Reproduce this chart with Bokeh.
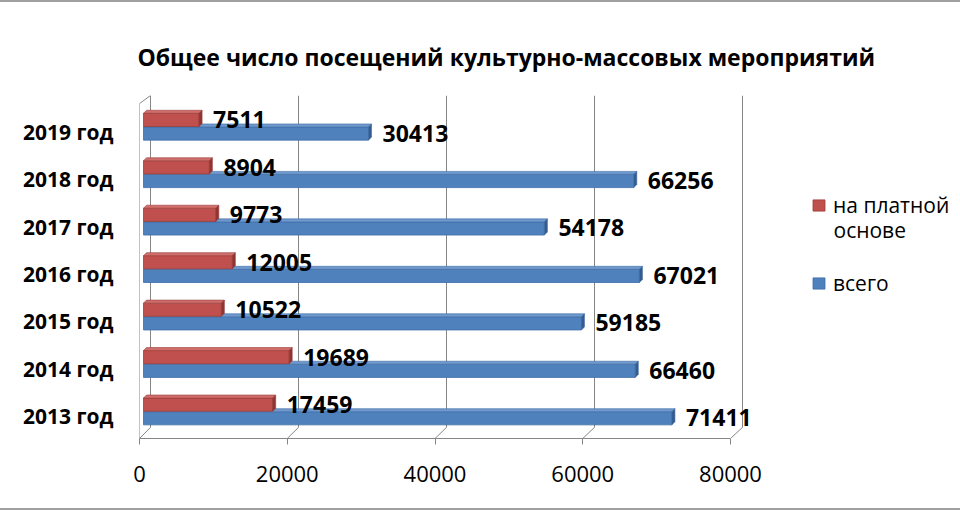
from bokeh.plotting import figure
from bokeh.models import (Range1d, LinearAxis, FixedTicker, Legend, LegendItem,
                          Label, ColumnDataSource, Title)
from bokeh.core.properties import value
from bokeh.embed import file_html
from bokeh.resources import INLINE

# ---- data ----
years = ["2013 год", "2014 год", "2015 год", "2016 год", "2017 год", "2018 год", "2019 год"]
paid = [17459, 19689, 10522, 12005, 9773, 8904, 7511]
total = [71411, 66460, 59185, 67021, 54178, 66256, 30413]
xticks = [0, 20000, 40000, 60000, 80000]
title_text = "Общее число посещений культурно-массовых мероприятий"
paid_name = "на платной основе"
total_name = "всего"

RED, RED_TOP, RED_CAP, RED_LINE = "#C0504D", "#CF6E6B", "#8E3532", "#9B3D3A"
BLUE, BLUE_TOP, BLUE_CAP, BLUE_LINE = "#4F81BD", "#6F98CC", "#345C8E", "#3F6DA6"
GRAY = "#868686"
FONT = "Open Sans"

W, HGT = 960, 510
BT = 2  # css border thickness
# ---- layout helpers (reference pixel geometry) ----
S = 592 / 80000              # px per unit for bars
SF = 591 / 80000             # px per unit for front axis
CAT = 46.9                   # px per category
def mx(px):                  # main data x from reference px
    return (px - 143) / S
def my(px):                  # main data y from reference px
    return (406 - px) / CAT
FR_L, FR_R, FR_T, FR_B = 139, 950, 95, 434

xs0, xs1 = mx(FR_L), mx(FR_R)
ys0, ys1 = my(FR_B), my(FR_T)

p = figure(width=W, height=HGT, output_backend="svg", toolbar_location=None,
           x_range=Range1d(xs0, xs1), y_range=Range1d(ys0, ys1),
           x_axis_location=None, y_axis_location=None,
           min_border_left=FR_L, min_border_right=W - FR_R,
           min_border_top=FR_T - BT, min_border_bottom=HGT - BT - FR_B,
           styles={"border-top": "2px solid #A0A0A0", "border-bottom": "2px solid #A0A0A0"})
p.grid.visible = False
p.outline_line_color = None
p.background_fill_color = "white"
p.border_fill_color = "white"

# front axis range & category label range
p.extra_x_ranges = {"front": Range1d(0, (FR_R - FR_L) / SF)}
p.extra_y_ranges = {"lab": Range1d(ys0 + 0.13, ys1 + 0.13)}

xax = LinearAxis(x_range_name="front", ticker=FixedTicker(ticks=xticks), bounds=(0, 80000))
xax.axis_line_color = GRAY
xax.major_tick_line_color = GRAY
xax.major_tick_out = 6
xax.major_tick_in = 0
xax.minor_tick_line_color = None
xax.major_label_standoff = 21
xax.major_label_text_font = FONT
xax.major_label_text_font_size = "22px"
xax.major_label_text_color = "#000000"
p.add_layout(xax, "below")

yax = LinearAxis(y_range_name="lab", ticker=FixedTicker(ticks=list(range(len(years)))))
yax.major_label_overrides = {i: y for i, y in enumerate(years)}
yax.axis_line_color = None
yax.major_tick_line_color = None
yax.major_tick_out = 0
yax.major_tick_in = 0
yax.minor_tick_line_color = None
yax.major_label_standoff = 26
yax.major_label_text_font = FONT
yax.major_label_text_font_size = "21px"
yax.major_label_text_font_style = "bold"
yax.major_label_text_color = "#000000"
p.add_layout(yax, "left")

# ---- 3D walls / grid ----
def back(v):
    return v + 7 / S
def front(v):
    return (v * SF - 4) / S
floor_y = my(423)
gx0, gy0, gx1, gy1 = [], [], [], []
for t in xticks:
    gx0.append(back(t)); gy0.append(floor_y); gx1.append(back(t)); gy1.append(ys1)
    gx0.append(back(t)); gy0.append(floor_y); gx1.append(front(t)); gy1.append(ys0)
# left wall front edge and top
gx0.append(front(0)); gy0.append(my(103)); gx1.append(front(0)); gy1.append(ys0)
gx0.append(front(0)); gy0.append(my(103)); gx1.append(back(0)); gy1.append(ys1)
p.segment(x0=gx0, y0=gy0, x1=gx1, y1=gy1, line_color=GRAY, line_width=1)

# ---- bars ----
H = 13 / CAT
DY = 3 / CAT
DX = 3 / S

def draw_series(vals, off, fill, top, cap, line):
    yc = [i + off for i in range(len(vals))]
    src = ColumnDataSource(dict(y=yc, right=vals))
    r = p.hbar(y="y", left=0, right="right", height=H, source=src,
               fill_color=fill, line_color=line, line_width=0.8)
    txs, tys, cxs, cys = [], [], [], []
    for v, y in zip(vals, yc):
        yt, yb = y + H / 2, y - H / 2
        txs.append([0, v, v + DX, DX]); tys.append([yt, yt, yt + DY, yt + DY])
        cxs.append([v, v, v + DX, v + DX]); cys.append([yb, yt, yt + DY, yb + DY])
    p.patches(xs=txs, ys=tys, fill_color=top, line_color=line, line_width=0.6)
    p.patches(xs=cxs, ys=cys, fill_color=cap, line_color=line, line_width=0.6)
    return r

r_total = draw_series(total, -0.171, BLUE, BLUE_TOP, BLUE_CAP, BLUE_LINE)
r_paid = draw_series(paid, 0.117, RED, RED_TOP, RED_CAP, RED_LINE)

# value labels
p.text(x=total, y=[i - 0.16 for i in range(len(total))], text=[str(v) for v in total],
       x_offset=14, text_baseline="middle", text_align="left",
       text_font=value(FONT), text_font_size="23px", text_font_style="bold", text_color="#000000")
p.text(x=paid, y=[i + 0.117 for i in range(len(paid))], text=[str(v) for v in paid],
       x_offset=14, text_baseline="middle", text_align="left",
       text_font=value(FONT), text_font_size="23px", text_font_style="bold", text_color="#000000")

# ---- legend ----
paid_words = paid_name.split(" ")
leg1 = Legend(items=[LegendItem(label=" ".join(paid_words[:2]), renderers=[r_paid])],
              location=(811 - FR_L, FR_B - (200 + 14.5)))
leg2 = Legend(items=[LegendItem(label=total_name, renderers=[r_total])],
              location=(811 - FR_L, FR_B - (278 + 14.5)))
for lg in (leg1, leg2):
    lg.padding = 0
    lg.margin = 0
    lg.border_line_color = None
    lg.background_fill_alpha = 0
    lg.glyph_width = 15
    lg.glyph_height = 14
    lg.label_standoff = 7
    lg.label_text_font = FONT
    lg.label_text_font_size = "21px"
    lg.label_text_color = "#000000"
    p.add_layout(lg, "center")

p.add_layout(Label(x=mx(833), y=my(228), text=" ".join(paid_words[2:]), text_baseline="middle",
                   text_align="left", text_font=FONT, text_font_size="21px", text_color="#000000"))

p.title = Title(text=title_text, align="left", offset=-2, standoff=45,
                text_font=FONT, text_font_size="23px", text_font_style="bold",
                text_color="#000000")

open("out.html", "w").write(file_html(p, INLINE))
